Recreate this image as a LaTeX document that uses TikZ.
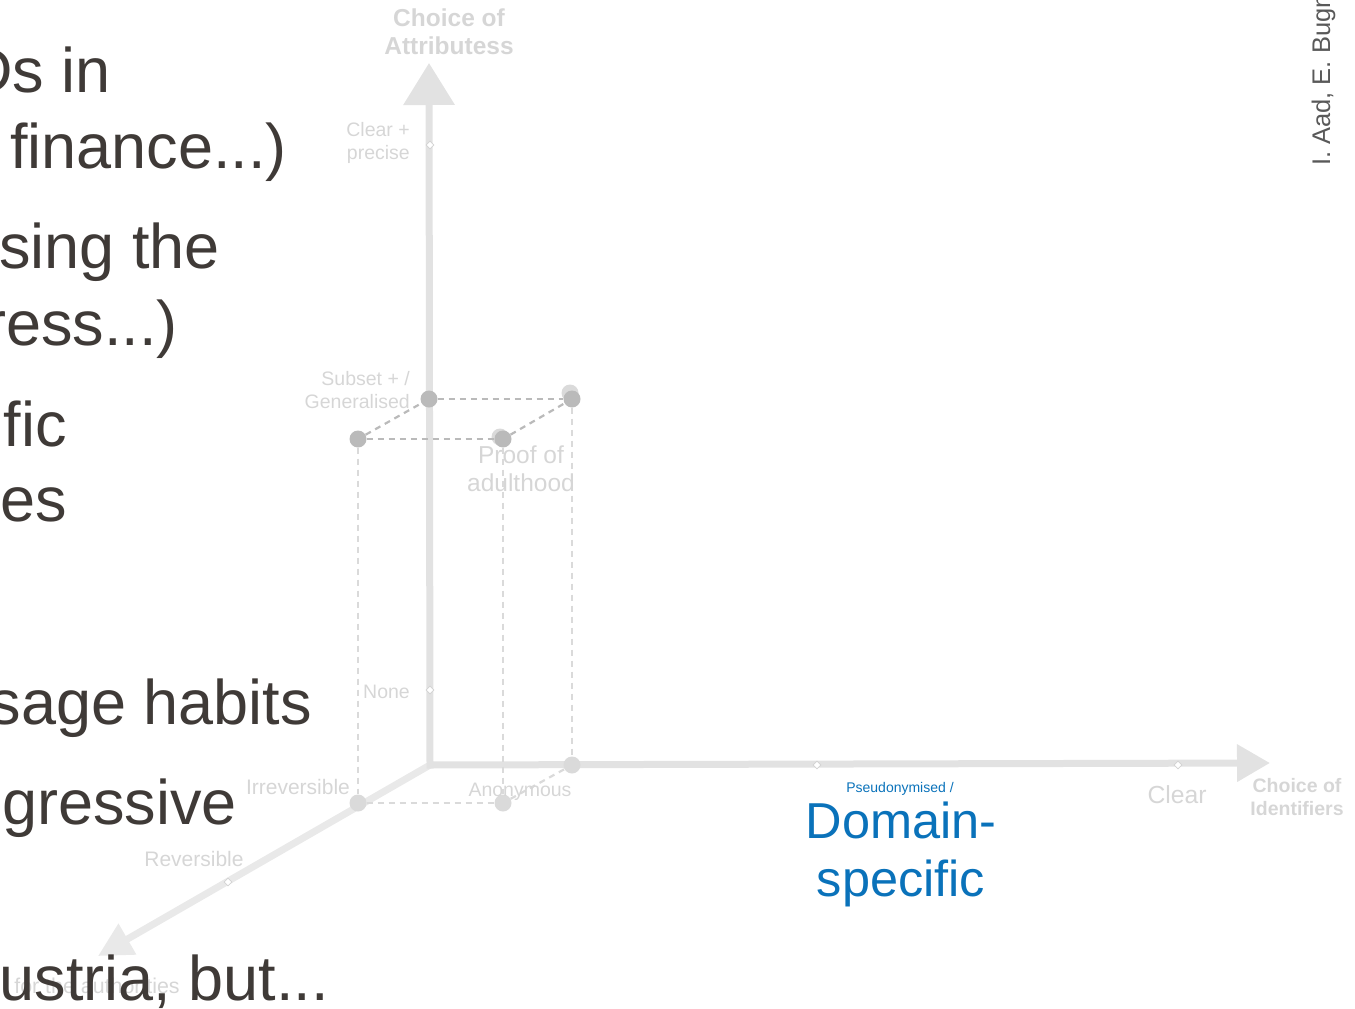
\documentclass[tikz,border=0pt]{standalone}
\usepackage{fontspec}
\setmainfont{Liberation Sans}
\usetikzlibrary{arrows.meta,shapes.geometric}
\definecolor{slidetext}{HTML}{3F3A37}
\definecolor{axisgray}{HTML}{E2E2E2}
\definecolor{labelgray}{HTML}{D6D6D6}
\definecolor{dotgray}{HTML}{BABABA}
\definecolor{lightdot}{HTML}{DADADA}
\definecolor{pseudoblue}{HTML}{0A72BA}
\definecolor{authorgray}{HTML}{595959}
\newcommand{\fsz}[1]{\fontsize{#1}{1.15\dimexpr #1pt\relax}\selectfont}

\begin{document}
\begin{tikzpicture}[x=1pt,y=-1pt,
    axis/.style={line width=7pt, draw=axisgray},
    lbl/.style={text=labelgray, inner sep=0pt, align=center},
    dot/.style={circle, fill=dotgray, inner sep=0pt, minimum size=17pt},
    tick/.style={diamond, draw=axisgray!80!black!60, fill=white, inner sep=0pt, minimum size=8pt, line width=0.6pt},
    topdash/.style={draw=dotgray, line width=2.2pt, dash pattern=on 6pt off 5pt},
    lowdash/.style={draw=lightdot, line width=2.2pt, dash pattern=on 6pt off 5pt},
    bullet/.style={text=slidetext, inner sep=0pt, anchor=base east, font=\fsz{63}}]
    \useasboundingbox (0,0) rectangle (1355,1009);
    \clip (0,0) rectangle (1355,1009);
    % Three axes
    \coordinate (O) at (430,765);
    \coordinate (ytip) at (429,63);
    \coordinate (xtip) at (1270,763);
    \coordinate (ztip) at (98,956);
    \draw[axis, draw=axisgray!75, -{Triangle[length=34pt,width=34pt]}] (O) -- (ztip);
    \draw[axis, {Triangle[length=42pt,width=50pt]}-{Triangle[length=33pt,width=36pt]}] (ytip) -- (O) -- (xtip);
    % Ticks on the axes
    \node[tick] (yclear) at (430,145) {};
    \node[tick] (ynone) at (430,690) {};
    \node[tick] (xpseudo) at (817,765) {};
    \node[tick] (xclear) at (1178,765) {};
    \node[tick] (zrev) at (228,882) {};
    % Points
    \node[dot, fill=lightdot] (bfront) at (358,803) {};
    \node[dot, fill=lightdot] (bback) at (503,803) {};
    \node[dot, fill=lightdot] (bside) at (572,765) {};
    \node[dot, fill=lightdot] (gback) at (570,393) {};
    \node[dot, fill=lightdot] (gfront) at (500,437) {};
    \node[dot] (tax) at (429,399) {};
    \node[dot] (tright) at (572,399) {};
    \node[dot] (tleft) at (358,439) {};
    \node[dot] (tmid) at (503,439) {};
    % Dashed box
    \draw[lowdash] (tleft) -- (bfront);
    \draw[lowdash] (tmid) -- (bback);
    \draw[lowdash] (tright) -- (bside);
    \draw[lowdash] (bfront) -- (bback);
    \draw[lowdash] (bback) -- (bside);
    \draw[topdash] (tax) -- (tright);
    \draw[topdash] (tleft) -- (tmid);
    \draw[topdash] (tleft) -- (tax);
    \draw[topdash] (tmid) -- (tright);
    % Axis labels
    \node[lbl, font=\bfseries\fsz{24.5}] (tattr) at (449,32) {Choice of\\Attributess};
    \node[lbl, font=\bfseries\fsz{19.5}] (tident) at (1297,797) {Choice of\\Identifiers};
    \node[lbl, align=right, anchor=east, font=\fsz{19.5}] (lprecise) at (410,143) {Clear +\\precise};
    \node[lbl, align=right, anchor=east, font=\fsz{19.5}] (lsubset) at (410,390) {Subset + /\\Generalised};
    \node[lbl, anchor=east, font=\fsz{19.5}] (lnone) at (410,692) {None};
    \node[lbl, font=\fsz{24.5}] (lproof) at (521,469) {Proof of\\adulthood};
    \node[lbl, font=\fsz{21}] (lirr) at (298,787) {Irreversible};
    \node[lbl, font=\fsz{19.5}] (lanon) at (520,792) {Anonymous};
    \node[lbl, font=\fsz{21}] (lrev) at (194,859) {Reversible};
    \node[lbl, font=\fsz{21.4}] (lauth) at (97,986) {for the authorities};
    \node[lbl, font=\fsz{24.7}] (lclear) at (1177,795) {Clear};
    \node[text=pseudoblue, inner sep=0pt, font=\fsz{14}] (lpseudo) at (900,789) {Pseudonymised /};
    \node[text=pseudoblue, inner sep=0pt, align=center, font=\fsz{50.5}] (ldomain) at (901,854) {Domain-\\specific};
    % Author line
    \node[text=authorgray, inner sep=0pt, rotate=90, anchor=base west, font=\fsz{25.5}] (author) at (1330,166) {I. Aad, E. Bugn};
    % Slide text
    \node[bullet] (b1) at (111,92) {Ds in};
    \node[bullet] (b2) at (287,168) {finance...)};
    \node[bullet] (b3) at (220,268) {sing the};
    \node[bullet] (b4) at (178,345) {ress...)};
    \node[bullet] (b5) at (67,446) {fic};
    \node[bullet] (b6) at (67,521) {es};
    \node[bullet] (b7) at (312,724) {sage habits};
    \node[bullet] (b8) at (237,824) {gressive};
    \node[bullet] (b9) at (329,1000) {ustria, but...};
\end{tikzpicture}
\end{document}
